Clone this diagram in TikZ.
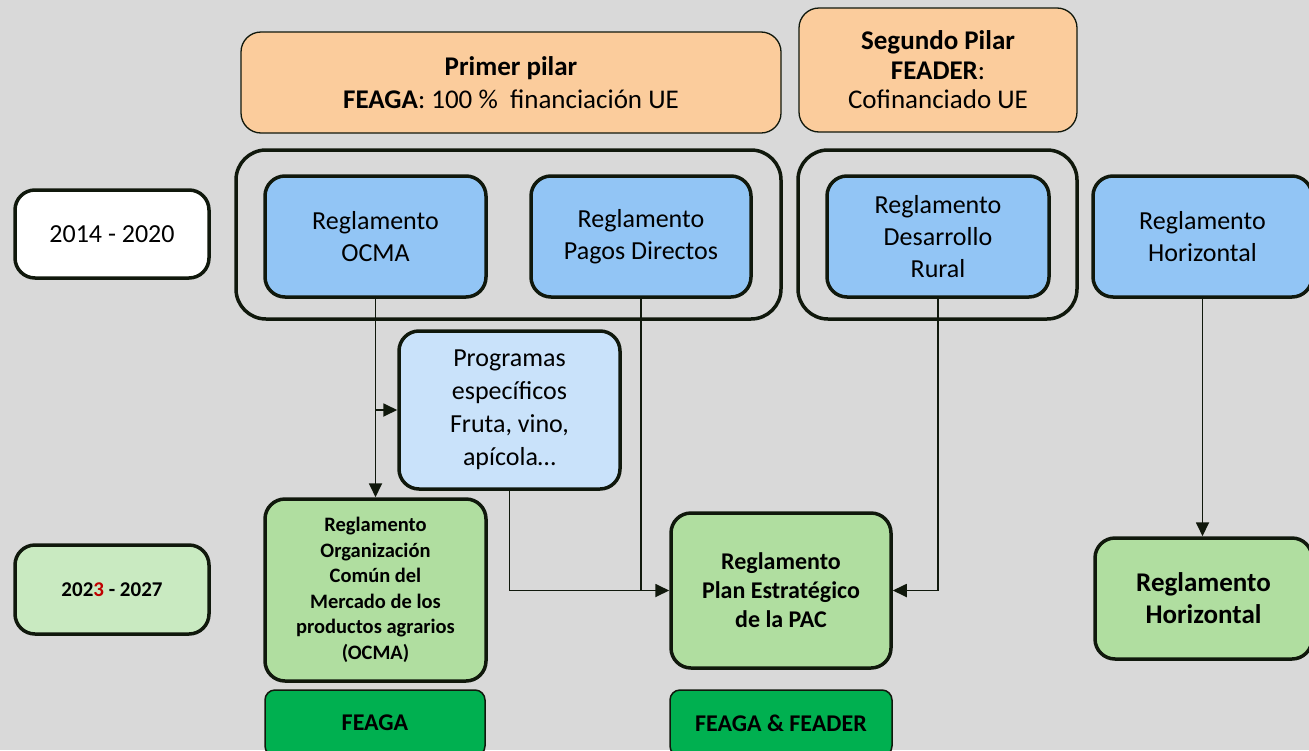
\documentclass[tikz,border=0pt]{standalone}
\usepackage{fontspec}
\setmainfont{Carlito}
\usetikzlibrary{arrows.meta}
\definecolor{gris}{RGB}{217,217,217}
\definecolor{borde}{RGB}{16,24,12}
\definecolor{naranja}{RGB}{251,204,156}
\definecolor{azul}{RGB}{146,197,245}
\definecolor{azulclaro}{RGB}{201,226,250}
\definecolor{verde}{RGB}{176,222,160}
\definecolor{verdeclaro}{RGB}{201,234,193}
\definecolor{verdeosc}{RGB}{0,176,80}
\definecolor{rojo}{RGB}{192,0,0}
\tikzset{
  caja/.style={draw=borde, line width=3.5pt, rounded corners=20pt, align=center, inner sep=0pt},
  pilar/.style={draw=borde, line width=1.3pt, fill=naranja, rounded corners=20pt, align=center, inner sep=0pt},
  marco/.style={draw=borde, line width=3.5pt, rounded corners=30pt, inner sep=0pt},
  fondocaja/.style={draw=borde, line width=1.5pt, fill=verdeosc, rounded corners=10pt, inner sep=0pt,
    font=\bfseries\fontsize{24}{28}\selectfont},
  flecha/.style={draw=borde, line width=1.8pt, -{Triangle[length=14pt,width=13pt]}},
  linea/.style={draw=borde, line width=1.8pt}
}
\begin{document}
\begin{tikzpicture}[x=1pt, y=-1pt]
\fill[gris] (0,0) rectangle (1309,750);
\useasboundingbox (0,0) rectangle (1309,750);
% pilares
\node [pilar, minimum width=540pt, minimum height=101pt, font=\fontsize{27}{33}\selectfont] (primer) at (511,82.5)
  {\textbf{Primer pilar}\\\textbf{FEAGA}: 100 \%\ \ financiación UE};
\node [pilar, minimum width=278pt, minimum height=124pt, font=\fontsize{27}{29.5}\selectfont] (segundo) at (938,70)
  {\textbf{Segundo Pilar}\\\textbf{FEADER}:\\Cofinanciado UE};
% marcos
\node [marco, minimum width=545pt, minimum height=169pt] (marcoA) at (508.5,234.5) {};
\node [marco, minimum width=279pt, minimum height=169pt] (marcoB) at (937.5,234.5) {};
% 2014 - 2020
\node [caja, fill=white, minimum width=194pt, minimum height=88pt, font=\fontsize{26}{32}\selectfont] (antes) at (112,234) {2014 - 2020};
\node [caja, fill=azul, minimum width=221pt, minimum height=121pt, font=\fontsize{26}{32}\selectfont] (ocma) at (375.5,236.5) {Reglamento\\OCMA};
\node [caja, fill=azul, minimum width=220pt, minimum height=121pt, font=\fontsize{26}{32}\selectfont] (pagos) at (641,236.5) {Reglamento\\Pagos Directos};
\node [caja, fill=azul, minimum width=222pt, minimum height=121pt, font=\fontsize{26}{32}\selectfont] (rural) at (938,236.5) {Reglamento\\Desarrollo\\Rural};
\node [caja, fill=azul, minimum width=219pt, minimum height=121pt, font=\fontsize{26}{32}\selectfont] (horiz) at (1202.5,236.5) {Reglamento\\Horizontal};
\node [caja, fill=azulclaro, minimum width=221pt, minimum height=158pt, font=\fontsize{26}{33}\selectfont] (progr) at (509.5,410) {Programas\\específicos\\Fruta, vino,\\apícola\ldots};
% 2023 - 2027
\node [caja, fill=verdeclaro, minimum width=194pt, minimum height=89pt, font=\bfseries\fontsize{21}{25}\selectfont] (despues) at (112,589.5) {202\textcolor{rojo}{3} - 2027};
\node [caja, fill=verde, minimum width=221pt, minimum height=182pt, font=\bfseries\fontsize{20.5}{25.5}\selectfont] (ocmaN) at (375.5,590) {Reglamento\\Organización\\Común del\\Mercado de los\\productos agrarios\\(OCMA)};
\node [caja, fill=verde, minimum width=220pt, minimum height=155pt, font=\bfseries\fontsize{24}{29}\selectfont] (plan) at (781,590.5) {Reglamento\\Plan Estratégico\\de la PAC};
\node [caja, fill=verde, minimum width=217pt, minimum height=121pt, font=\bfseries\fontsize{27}{32}\selectfont] (horizN) at (1203.5,598.5) {Reglamento\\Horizontal};
% fondos
\node [fondocaja, minimum width=220pt, minimum height=66pt] (feaga) at (375,723) {FEAGA};
\node [fondocaja, minimum width=222pt, minimum height=66pt] (ambos) at (781,723) {FEAGA \& FEADER};
% conexiones
\draw [flecha] (ocma.south) -- (ocmaN.north);
\draw [flecha] (ocma.south |- progr.west) -- (progr.west);
\draw [linea] (pagos.south) -- (pagos.south |- plan.west);
\draw [flecha] (progr.south) |- (plan.west);
\draw [flecha] (rural.south) |- (plan.east);
\draw [flecha] (horiz.south) -- (horiz.south |- horizN.north);
\end{tikzpicture}
\end{document}
